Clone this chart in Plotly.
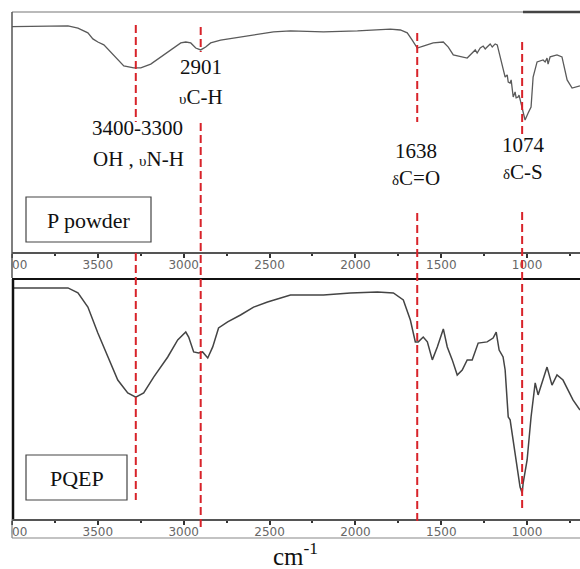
import plotly.graph_objects as go

W, H = 580, 569

# ---- data (wavenumber cm^-1, relative transmittance %) ----
wn_powder = [4000, 3831, 3674, 3616, 3558, 3529, 3500, 3465, 3424, 3384, 3349, 3291, 3250,
             3192, 3134, 3076, 3017, 2988, 2959, 2930, 2901, 2872, 2843, 2785, 2709, 2593,
             2477, 2378, 2186, 1988, 1797, 1738, 1698, 1669, 1640, 1605, 1547, 1488, 1459,
             1430, 1390, 1349, 1320, 1302, 1291, 1273, 1256, 1244, 1233, 1215, 1203, 1186,
             1174, 1157, 1128, 1116, 1110, 1099, 1093, 1081, 1070, 1064, 1052, 1047, 1029,
             1012, 994, 977, 965, 942, 907, 895, 884, 878, 866, 826, 797, 767, 738, 692]
t_powder = [93.9, 94.0, 94.2, 93.3, 91.3, 88.8, 87.5, 86.3, 83.3, 80.0, 77.5, 76.7, 76.7,
            78.3, 81.3, 84.2, 87.1, 87.5, 87.1, 85.0, 84.2, 85.4, 87.1, 88.3, 89.2, 90.4,
            91.7, 92.1, 91.7, 92.1, 92.9, 92.5, 91.3, 88.3, 85.0, 85.8, 87.1, 87.5, 85.4,
            82.1, 81.3, 80.8, 82.9, 84.2, 82.9, 85.0, 85.8, 84.6, 85.4, 86.7, 85.4, 86.7,
            86.3, 81.3, 72.9, 73.8, 70.8, 70.4, 71.7, 64.6, 66.7, 64.2, 64.6, 65.4, 60.4,
            55.0, 57.9, 60.4, 72.9, 79.2, 80.0, 79.2, 80.8, 78.3, 81.3, 82.1, 81.3, 71.7, 68.3, 69.2]

wn_pqep = [4000, 3831, 3674, 3616, 3558, 3500, 3442, 3384, 3326, 3279, 3233, 3174, 3093,
           3035, 2988, 2971, 2942, 2913, 2890, 2860, 2831, 2797, 2744, 2669, 2593, 2512,
           2378, 2186, 2029, 1872, 1779, 1721, 1680, 1651, 1634, 1605, 1581, 1552, 1523,
           1488, 1465, 1436, 1407, 1378, 1349, 1320, 1285, 1233, 1198, 1180, 1163, 1140,
           1128, 1110, 1099, 1058, 1041, 1029, 1023, 1000, 983, 977, 953, 936, 884, 855,
           826, 791, 733, 692]
t_pqep = [96.3, 96.3, 96.3, 94.2, 88.3, 77.5, 67.5, 57.9, 52.5, 50.8, 52.5, 59.2, 67.5,
          74.6, 77.9, 75.8, 69.6, 69.2, 69.6, 67.1, 71.7, 79.6, 82.1, 85.0, 88.3, 90.4,
          93.3, 93.3, 94.2, 94.6, 94.2, 91.3, 82.9, 73.8, 73.8, 75.8, 73.8, 66.3, 71.7,
          79.2, 71.7, 66.3, 60.0, 62.1, 66.3, 66.3, 73.3, 73.8, 75.4, 77.9, 70.4, 67.5,
          62.1, 42.5, 41.3, 21.7, 13.3, 10.8, 15.0, 24.6, 37.1, 42.5, 56.7, 51.7, 63.3, 55.8,
          60.0, 57.9, 49.6, 45.4]

marker_wn = [3279, 2901, 1640, 1029]
x_range = [4000, 692]
tick_vals = [4000, 3500, 3000, 2500, 2000, 1500, 1000]
minor_step = 250


def px(p):
    return p / W


def py(p):
    return 1 - p / H


fig = go.Figure()
fig.add_trace(go.Scatter(x=wn_powder, y=t_powder, mode="lines", xaxis="x", yaxis="y",
                         line=dict(color="#5a5a5a", width=1.3), showlegend=False))
fig.add_trace(go.Scatter(x=wn_pqep, y=t_pqep, mode="lines", xaxis="x2", yaxis="y2",
                         line=dict(color="#444444", width=1.5), showlegend=False))

xcommon = dict(range=x_range, domain=[px(12), 1], tickmode="array", tickvals=tick_vals,
               ticktext=[str(v) for v in tick_vals], ticklabeloverflow="allow",
               automargin=False, ticklabelstandoff=-3,
               ticks="outside", ticklen=4, tickwidth=1.5, tickcolor="#333",
               showline=True, linecolor="#555", linewidth=2, showgrid=False, zeroline=False,
               tickfont=dict(family="DejaVu Sans", size=12, color="#666"),
               minor=dict(tick0=0, dtick=minor_step, ticks="outside", ticklen=2, tickwidth=1.5,
                          tickcolor="#333", showgrid=False))

fig.update_layout(
    width=W, height=H, autosize=False,
    margin=dict(l=0, r=0, t=0, b=0, autoexpand=False),
    paper_bgcolor="white", plot_bgcolor="white",
    xaxis=dict(anchor="y", **xcommon),
    yaxis=dict(domain=[py(252), py(12)], range=[0, 100], visible=False),
    xaxis2=dict(anchor="y2", **xcommon),
    yaxis2=dict(domain=[py(519), py(279)], range=[0, 100], visible=False),
)

shapes = []
# white mask at far left (clips "40" of the 4000 tick label)
shapes.append(dict(type="rect", xref="paper", yref="paper", x0=0, x1=px(11.3), y0=0, y1=1,
                   fillcolor="white", line=dict(width=0), layer="above"))


def pline(x0, y0, x1, y1, color, width):
    shapes.append(dict(type="line", xref="paper", yref="paper", x0=px(x0), y0=py(y0),
                       x1=px(x1), y1=py(y1), line=dict(color=color, width=width), layer="above"))


pline(12, 12, 580, 12, "#777", 1.2)
pline(523, 12, 580, 12, "#444", 2.5)
pline(12, 12, 12, 278, "#555", 1.5)
pline(12, 279, 580, 279, "#111", 2)
pline(13, 279, 13, 519, "#111", 2.5)
pline(12, 519, 12, 538, "#666", 1)
pline(12, 538, 580, 538, "#888", 1.2)

# label boxes
for (x0, y0, x1, y1) in [(26, 197, 151, 242), (26, 455, 127, 500)]:
    shapes.append(dict(type="rect", xref="paper", yref="paper", x0=px(x0), x1=px(x1),
                       y0=py(y1), y1=py(y0), line=dict(color="#444", width=1.2),
                       fillcolor="white", layer="above"))

# red dashed marker lines (segments in pixel rows)
segments = [[(25, 122), (253, 500)],
            [(27, 52), (123, 528)],
            [(33, 122), (213, 523)],
            [(42, 135), (212, 508)]]
for wn, segs in zip(marker_wn, segments):
    for (a, b) in segs:
        shapes.append(dict(type="line", xref="x", yref="paper", x0=wn, x1=wn,
                           y0=py(a), y1=py(b), layer="above",
                           line=dict(color="#d8232a", width=2, dash="8px,4px")))

fig.update_layout(shapes=shapes)

serif = "Liberation Serif, Times New Roman, serif"
ann = []


def txt(text, x, y, xref="x", size=21):
    ann.append(dict(text=text, x=x, y=py(y), xref=xref, yref="paper", showarrow=False,
                    xanchor="center", yanchor="middle",
                    font=dict(family=serif, size=size, color="#111")))


small = "<span style='font-size:15px'>{}</span>"
txt("2901", 2901, 67)
txt(small.format("υ") + "C-H", 2901, 97)
txt("3400-3300", 3267, 128)
txt("OH , " + small.format("υ") + "N-H", 3262, 159)
txt("1638", 1645, 151)
txt(small.format("δ") + "C=O", 1645, 178)
txt("1074", 1023, 145)
txt(small.format("δ") + "C-S", 1023, 172)
txt("P powder", px(88.5), 220, xref="paper", size=22)
txt("PQEP", px(76.5), 478, xref="paper", size=22)
txt("cm<sup>-1</sup>", px(295), 554, xref="paper", size=25)
fig.update_layout(annotations=ann)

fig.write_html("out.html")
